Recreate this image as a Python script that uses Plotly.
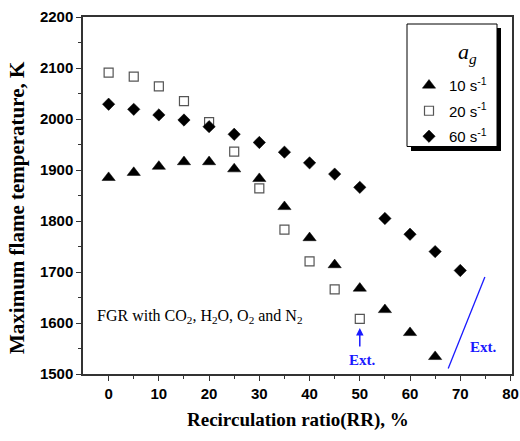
import plotly.graph_objects as go

# ---- data ----
rr_10 = [0, 5, 10, 15, 20, 25, 30, 35, 40, 45, 50, 55, 60, 65]
temp_10 = [1885, 1895, 1907, 1916, 1916, 1902, 1883, 1828, 1767, 1714, 1668, 1626, 1581, 1534]

rr_20 = [0, 5, 10, 15, 20, 25, 30, 35, 40, 45, 50]
temp_20 = [2091, 2083, 2064, 2035, 1994, 1936, 1864, 1783, 1721, 1666, 1608]

rr_60 = [0, 5, 10, 15, 20, 25, 30, 35, 40, 45, 50, 55, 60, 65, 70]
temp_60 = [2029, 2019, 2008, 1998, 1985, 1970, 1954, 1935, 1914, 1892, 1866, 1805, 1774, 1740, 1703]

series_names = ["10 s<sup>-1</sup>", "20 s<sup>-1</sup>", "60 s<sup>-1</sup>"]
x_ticks = [0, 10, 20, 30, 40, 50, 60, 70, 80]
y_ticks = [1500, 1600, 1700, 1800, 1900, 2000, 2100, 2200]

ext_line_x = [67.6, 74.9]
ext_line_y = [1511, 1690]

# body margin is removed by post_script, so figure pixels == page pixels
OFF = 0
W, H = 520, 441
ML, MR, MT, MB = 83, 8, 17, 67
pw = W - ML - MR
ph = H - MT - MB


def px_x(p):
    """page pixel x -> paper coordinate"""
    return (p - OFF - ML) / pw


def px_y(p):
    """page pixel y -> paper coordinate"""
    return (H - MB - (p - OFF)) / ph


fig = go.Figure()
fig.add_trace(go.Scatter(x=rr_10, y=temp_10, mode="markers", name=series_names[0], legendgroup="a",
                         marker=dict(symbol="triangle-up", size=11.5, color="black",
                                     line=dict(color="black", width=0.5))))
fig.add_trace(go.Scatter(x=rr_20, y=temp_20, mode="markers", name=series_names[1], legendgroup="b",
                         marker=dict(symbol="square-open", size=9, color="#555555",
                                     line=dict(color="#555555", width=1.2))))
fig.add_trace(go.Scatter(x=rr_60, y=temp_60, mode="markers", name=series_names[2], legendgroup="c",
                         marker=dict(symbol="diamond", size=9.5, color="black",
                                     line=dict(color="black", width=0.5))))
fig.add_trace(go.Scatter(x=ext_line_x, y=ext_line_y, mode="lines", showlegend=False,
                         line=dict(color="#1a1aff", width=1.3), hoverinfo="skip"))

tickfont = dict(family="Liberation Sans, Arial", size=15, color="black", weight="bold")

fig.update_layout(
    width=W, height=H,
    margin=dict(l=ML, r=MR, t=MT, b=MB),
    paper_bgcolor="white", plot_bgcolor="white",
    xaxis=dict(range=[-5.1, 80.3], tickvals=x_ticks, ticks="outside", ticklen=5, tickwidth=1.2,
               tickcolor="#333", showline=True, linecolor="#333", linewidth=1.5, mirror=True,
               showgrid=False, zeroline=False, tickfont=tickfont, automargin=False,
               ticklabeloverflow="allow",
               minor=dict(tickvals=[5, 15, 25, 35, 45, 55, 65, 75], ticks="outside", ticklen=3,
                          tickcolor="#333", tickwidth=1.2)),
    yaxis=dict(range=[1500, 2200], tickvals=y_ticks, ticks="outside", ticklen=5, tickwidth=1.2,
               tickcolor="#333", showline=True, linecolor="#333", linewidth=1.5, mirror=True,
               showgrid=False, zeroline=False, tickfont=tickfont, automargin=False,
               ticklabeloverflow="allow",
               minor=dict(tickvals=[1550, 1650, 1750, 1850, 1950, 2050, 2150], ticks="outside",
                          ticklen=3, tickcolor="#333", tickwidth=1.2)),
    legend=dict(x=px_x(409), y=px_y(69),
                xanchor="left", yanchor="top", tracegroupgap=3,
                bgcolor="rgba(0,0,0,0)", borderwidth=0,
                font=dict(family="Liberation Sans, Arial", size=15, color="black")),
    showlegend=True,
)

# legend shadow and box (drawn as shapes so the box matches the reference size)
fig.add_shape(type="rect", xref="paper", yref="paper",
              x0=px_x(411), x1=px_x(501), y0=px_y(151), y1=px_y(28),
              fillcolor="black", line=dict(width=0), layer="above")
fig.add_shape(type="rect", xref="paper", yref="paper",
              x0=px_x(407), x1=px_x(497), y0=px_y(146.5), y1=px_y(24),
              fillcolor="white", line=dict(color="black", width=1), layer="above")
# legend title
fig.add_annotation(text="<i>a<sub>g</sub></i>", xref="paper", yref="paper",
                   x=px_x(467), y=px_y(53), showarrow=False, xanchor="center", yanchor="middle",
                   font=dict(family="Liberation Serif, Times New Roman", size=22, color="black"))

# axis titles
fig.add_annotation(text="<b>Recirculation ratio(RR), %</b>", xref="paper", yref="paper",
                   x=0.5, y=px_y(420), showarrow=False, xanchor="center", yanchor="middle",
                   font=dict(family="Liberation Serif, Times New Roman", size=19, color="black"))
fig.add_annotation(text="<b>Maximum flame temperature, K</b>", xref="paper", yref="paper",
                   x=px_x(17), y=px_y(208), showarrow=False, textangle=-90,
                   xanchor="center", yanchor="middle",
                   font=dict(family="Liberation Serif, Times New Roman", size=21, color="black"))

# text annotations
fig.add_annotation(text="FGR with CO<sub>2</sub>, H<sub>2</sub>O, O<sub>2</sub> and N<sub>2</sub>",
                   x=-2.8, y=1612, xref="x", yref="y", showarrow=False, xanchor="left",
                   yanchor="middle",
                   font=dict(family="Liberation Serif, Times New Roman", size=16, color="black"))
fig.add_annotation(text="<b>Ext.</b>", x=50.5, y=1528, xref="x", yref="y", showarrow=False,
                   font=dict(family="Liberation Serif, Times New Roman", size=15, color="#1a1aff"))
fig.add_annotation(text="", x=50, y=1590, ax=50, ay=1551, xref="x", yref="y", axref="x", ayref="y",
                   showarrow=True, arrowhead=2, arrowsize=1, arrowwidth=1.5, arrowcolor="#1a1aff")
fig.add_annotation(text="<b>Ext.</b>", x=74.6, y=1552, xref="x", yref="y", showarrow=False,
                   font=dict(family="Liberation Serif, Times New Roman", size=15, color="#1a1aff"))

fig.write_html("out.html", config={"displayModeBar": False},
               post_script="document.body.style.margin='0';document.body.style.overflow='hidden';")
